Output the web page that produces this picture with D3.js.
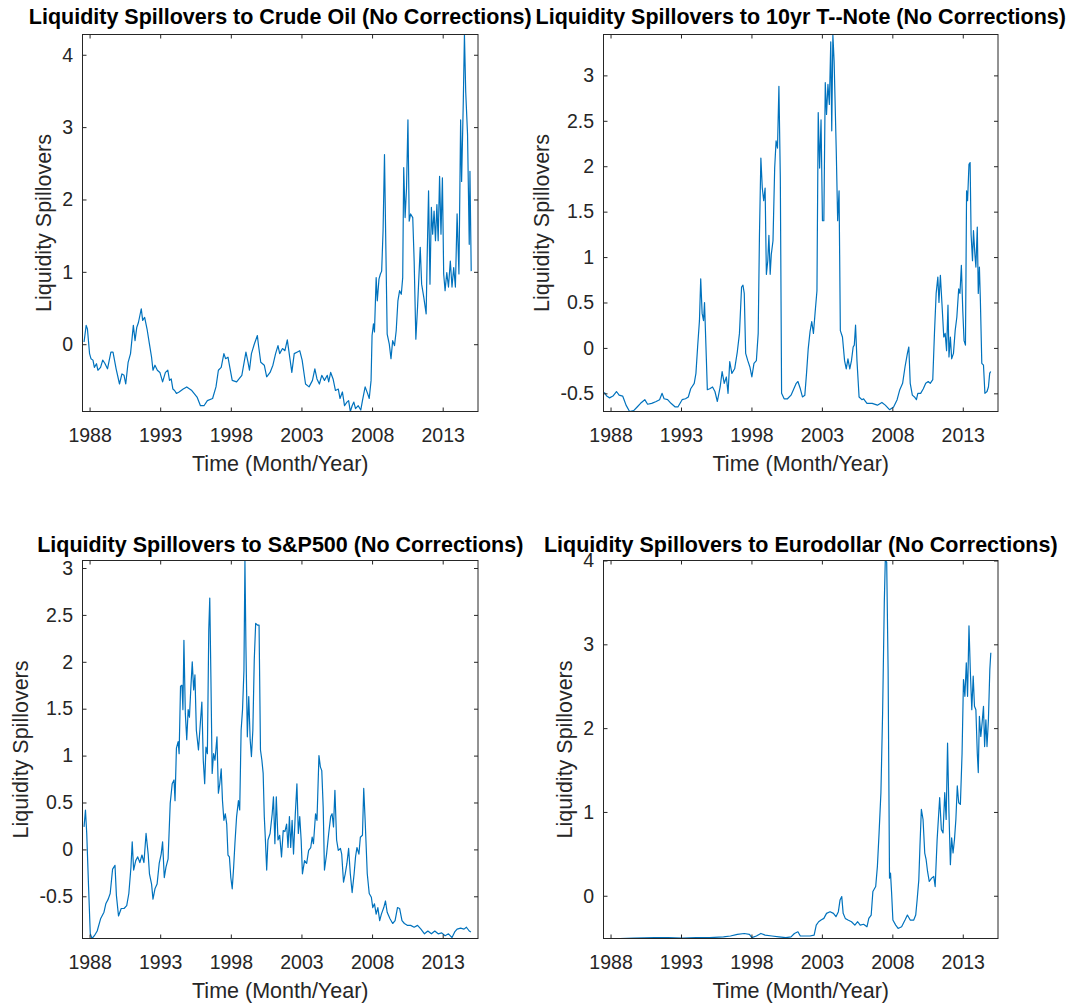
<!DOCTYPE html>
<html>
<head>
<meta charset="utf-8">
<script src="https://cdn.jsdelivr.net/npm/d3@7"></script>
<style>
  body { margin: 0; background: #fff; }
  text { font-family: "Liberation Sans", Arial, sans-serif; }
</style>
</head>
<body>
<svg id="fig" width="1071" height="1004"></svg>
<script>
// x axis: years, shared by all four panels
const yearTicks = [1988, 1993, 1998, 2003, 2008, 2013]
const yearRange = [1987.5, 2015.5]

// [year, spillover]
const crudeOil = [
  [1987.61,0.03],[1987.76,0.26],[1987.85,0.21],[1988.00,-0.13],[1988.10,-0.20],[1988.24,-0.22],[1988.34,-0.32],
  [1988.49,-0.27],[1988.59,-0.36],[1988.78,-0.32],[1988.93,-0.22],[1989.07,-0.26],[1989.27,-0.34],[1989.51,-0.11],
  [1989.66,-0.11],[1989.88,-0.34],[1990.12,-0.55],[1990.29,-0.41],[1990.44,-0.43],[1990.56,-0.55],[1990.73,-0.25],
  [1990.90,-0.13],[1991.10,0.26],[1991.22,0.05],[1991.34,0.23],[1991.46,0.30],[1991.66,0.49],[1991.76,0.33],
  [1991.90,0.37],[1992.07,0.21],[1992.24,0.00],[1992.39,-0.18],[1992.49,-0.36],[1992.63,-0.29],[1992.80,-0.36],
  [1992.98,-0.39],[1993.17,-0.52],[1993.37,-0.39],[1993.54,-0.36],[1993.66,-0.50],[1993.78,-0.48],[1993.90,-0.62],
  [1994.02,-0.64],[1994.15,-0.68],[1994.34,-0.66],[1994.63,-0.62],[1994.88,-0.59],[1995.24,-0.64],[1995.61,-0.73],
  [1995.85,-0.85],[1996.10,-0.85],[1996.34,-0.78],[1996.71,-0.75],[1996.95,-0.59],[1997.12,-0.36],[1997.32,-0.32],
  [1997.51,-0.13],[1997.63,-0.20],[1997.80,-0.18],[1997.93,-0.32],[1998.10,-0.50],[1998.41,-0.52],[1998.78,-0.43],
  [1999.07,-0.11],[1999.22,-0.25],[1999.32,-0.36],[1999.46,-0.13],[1999.66,0.00],[1999.88,0.12],[1999.95,0.00],
  [2000.12,-0.25],[2000.37,-0.29],[2000.54,-0.45],[2000.78,-0.39],[2000.98,-0.29],[2001.17,-0.13],[2001.34,-0.02],
  [2001.46,-0.13],[2001.66,-0.06],[2001.83,-0.09],[2002.00,0.06],[2002.20,-0.22],[2002.32,-0.39],[2002.49,-0.13],
  [2002.68,-0.11],[2002.88,-0.09],[2003.05,-0.22],[2003.29,-0.55],[2003.54,-0.59],[2003.78,-0.50],[2003.95,-0.34],
  [2004.10,-0.48],[2004.27,-0.55],[2004.44,-0.43],[2004.63,-0.50],[2004.83,-0.43],[2004.93,-0.52],[2005.07,-0.39],
  [2005.24,-0.48],[2005.41,-0.64],[2005.61,-0.62],[2005.73,-0.75],[2005.90,-0.66],[2006.05,-0.85],[2006.22,-0.80],
  [2006.34,-0.78],[2006.46,-0.93],[2006.59,-0.85],[2006.71,-0.80],[2006.83,-0.89],[2007.02,-0.85],[2007.20,-0.91],
  [2007.32,-0.78],[2007.51,-0.59],[2007.68,-0.68],[2007.80,-0.75],[2007.93,-0.50],[2008.00,0.12],[2008.10,0.28],
  [2008.17,0.17],[2008.29,0.92],[2008.37,0.60],[2008.49,0.90],[2008.59,0.97],[2008.68,1.01],[2008.78,1.57],
  [2008.88,2.62],[2008.98,1.29],[2009.07,0.14],[2009.22,0.00],[2009.34,-0.20],[2009.46,0.05],[2009.59,-0.02],
  [2009.71,0.19],[2009.83,0.60],[2009.95,0.74],[2010.07,0.69],[2010.17,0.92],[2010.24,2.44],[2010.34,1.75],
  [2010.44,2.16],[2010.54,3.10],[2010.63,1.70],[2010.73,1.80],[2010.88,1.75],[2010.98,1.15],[2011.10,0.07],
  [2011.22,0.51],[2011.41,1.34],[2011.51,0.83],[2011.66,0.65],[2011.83,0.42],[2011.90,1.20],[2012.00,2.12],
  [2012.10,0.83],[2012.20,1.89],[2012.29,1.52],[2012.39,1.84],[2012.49,1.43],[2012.59,1.93],[2012.68,1.43],
  [2012.78,2.32],[2012.88,1.52],[2012.98,2.30],[2013.07,0.97],[2013.17,0.74],[2013.29,0.99],[2013.41,0.79],
  [2013.54,1.15],[2013.66,0.79],[2013.78,1.06],[2013.90,0.79],[2014.02,1.80],[2014.15,0.97],[2014.27,3.10],
  [2014.34,2.25],[2014.46,3.36],[2014.54,4.28],[2014.63,3.49],[2014.76,2.90],[2014.88,1.38],[2014.93,2.39],
  [2015.02,1.01]
]

const tNote = [
  [1987.56,-0.49],[1987.73,-0.53],[1987.93,-0.55],[1988.17,-0.53],[1988.42,-0.48],[1988.61,-0.52],[1988.86,-0.53],
  [1988.96,-0.57],[1989.10,-0.63],[1989.35,-0.70],[1989.64,-0.69],[1989.89,-0.65],[1990.13,-0.61],[1990.43,-0.57],
  [1990.63,-0.62],[1990.92,-0.61],[1991.24,-0.59],[1991.48,-0.57],[1991.66,-0.50],[1991.80,-0.56],[1992.05,-0.57],
  [1992.29,-0.61],[1992.59,-0.65],[1992.78,-0.65],[1993.08,-0.57],[1993.32,-0.56],[1993.52,-0.54],[1993.69,-0.45],
  [1993.94,-0.39],[1994.06,-0.28],[1994.18,0.01],[1994.31,0.30],[1994.40,0.76],[1994.50,0.38],[1994.60,0.30],
  [1994.67,0.50],[1994.80,-0.12],[1994.87,-0.46],[1995.04,-0.45],[1995.24,-0.43],[1995.41,-0.48],[1995.58,-0.59],
  [1995.78,-0.43],[1995.92,-0.26],[1996.07,-0.39],[1996.22,-0.32],[1996.34,-0.50],[1996.46,-0.15],[1996.61,-0.28],
  [1996.81,-0.23],[1997.00,-0.04],[1997.15,0.16],[1997.30,0.67],[1997.40,0.69],[1997.49,0.60],[1997.59,-0.06],
  [1997.74,-0.14],[1997.89,-0.21],[1998.03,-0.32],[1998.18,-0.17],[1998.35,-0.14],[1998.48,0.16],[1998.57,1.25],
  [1998.67,2.09],[1998.77,1.76],[1998.87,1.62],[1998.97,1.76],[1999.06,0.81],[1999.16,0.96],[1999.24,1.24],
  [1999.33,0.81],[1999.41,1.03],[1999.53,1.18],[1999.65,1.98],[1999.75,2.28],[1999.85,2.20],[1999.95,2.88],
  [2000.05,1.87],[2000.14,-0.50],[2000.32,-0.56],[2000.56,-0.56],[2000.81,-0.52],[2000.98,-0.46],[2001.18,-0.39],
  [2001.30,-0.37],[2001.47,-0.45],[2001.62,-0.54],[2001.79,-0.52],[2001.91,-0.28],[2002.03,-0.01],[2002.16,0.18],
  [2002.28,0.29],[2002.40,0.16],[2002.52,0.39],[2002.65,0.63],[2002.74,2.59],[2002.84,1.98],[2002.94,2.51],
  [2003.04,1.40],[2003.14,1.40],[2003.24,2.92],[2003.33,2.57],[2003.43,2.90],[2003.53,2.68],[2003.63,3.37],
  [2003.70,2.39],[2003.78,3.45],[2003.87,3.15],[2004.02,2.17],[2004.12,1.40],[2004.22,1.73],[2004.31,0.19],
  [2004.46,0.12],[2004.61,-0.14],[2004.73,-0.23],[2004.85,-0.12],[2004.98,-0.23],[2005.10,-0.14],[2005.22,0.01],
  [2005.30,0.03],[2005.39,0.25],[2005.49,-0.14],[2005.64,-0.54],[2005.84,-0.57],[2005.96,-0.56],[2006.20,-0.61],
  [2006.57,-0.61],[2006.94,-0.63],[2007.26,-0.60],[2007.50,-0.63],[2007.80,-0.68],[2008.09,-0.65],[2008.34,-0.57],
  [2008.53,-0.46],[2008.73,-0.39],[2008.90,-0.21],[2009.07,-0.06],[2009.17,0.01],[2009.27,-0.39],[2009.42,-0.52],
  [2009.57,-0.54],[2009.71,-0.57],[2009.81,-0.50],[2010.01,-0.50],[2010.20,-0.45],[2010.37,-0.39],[2010.55,-0.37],
  [2010.69,-0.39],[2010.87,-0.35],[2010.99,0.16],[2011.11,0.60],[2011.23,0.78],[2011.31,0.50],[2011.41,0.80],
  [2011.55,0.41],[2011.65,0.12],[2011.75,0.16],[2011.85,-0.03],[2011.95,0.47],[2012.02,-0.10],[2012.12,0.12],
  [2012.21,-0.12],[2012.34,-0.06],[2012.46,0.19],[2012.58,0.34],[2012.71,0.65],[2012.80,0.60],[2012.90,0.91],
  [2013.00,0.41],[2013.09,0.08],[2013.19,0.03],[2013.27,1.73],[2013.34,1.62],[2013.44,2.02],[2013.52,2.04],
  [2013.59,1.25],[2013.69,0.96],[2013.76,1.29],[2013.86,1.03],[2013.93,0.89],[2014.03,1.33],[2014.10,0.60],
  [2014.18,0.89],[2014.25,0.52],[2014.35,-0.17],[2014.47,-0.19],[2014.57,-0.50],[2014.72,-0.48],[2014.82,-0.43],
  [2014.91,-0.28],[2014.98,-0.26]
]

const sp500 = [
  [1987.61,0.24],[1987.71,0.42],[1987.80,0.17],[1987.93,-0.40],[1988.05,-0.90],[1988.17,-0.95],[1988.34,-0.92],
  [1988.54,-0.87],[1988.78,-0.74],[1989.02,-0.67],[1989.15,-0.58],[1989.32,-0.53],[1989.46,-0.47],[1989.63,-0.21],
  [1989.80,-0.17],[1989.90,-0.49],[1990.05,-0.71],[1990.24,-0.63],[1990.44,-0.63],[1990.63,-0.60],[1990.78,-0.47],
  [1990.93,-0.19],[1991.02,0.08],[1991.12,-0.22],[1991.27,-0.12],[1991.41,-0.08],[1991.56,-0.14],[1991.71,-0.06],
  [1991.85,-0.14],[1992.00,0.17],[1992.15,-0.05],[1992.24,-0.26],[1992.39,-0.37],[1992.49,-0.53],[1992.63,-0.42],
  [1992.78,-0.37],[1992.93,-0.15],[1993.07,-0.05],[1993.17,0.08],[1993.29,-0.30],[1993.41,-0.19],[1993.56,-0.10],
  [1993.71,0.49],[1993.85,0.70],[1993.98,0.74],[1994.05,0.52],[1994.15,1.08],[1994.27,1.15],[1994.34,1.02],
  [1994.44,1.74],[1994.54,1.75],[1994.61,1.49],[1994.68,2.23],[1994.78,1.45],[1994.88,1.17],[1994.98,1.49],
  [1995.07,1.41],[1995.17,1.72],[1995.27,2.00],[1995.37,1.70],[1995.46,1.86],[1995.56,1.27],[1995.71,1.06],
  [1995.85,1.36],[1995.95,1.57],[1996.05,0.95],[1996.15,0.70],[1996.24,1.09],[1996.34,1.02],[1996.44,2.34],
  [1996.51,2.68],[1996.59,1.84],[1996.68,0.81],[1996.78,1.02],[1996.88,0.95],[1997.02,1.20],[1997.12,0.60],
  [1997.22,0.70],[1997.32,0.86],[1997.41,0.52],[1997.51,0.31],[1997.61,0.38],[1997.71,0.27],[1997.80,-0.06],
  [1997.90,-0.08],[1998.00,-0.30],[1998.10,-0.42],[1998.20,-0.19],[1998.29,0.06],[1998.41,0.35],[1998.54,0.52],
  [1998.63,0.42],[1998.73,1.27],[1998.83,1.49],[1998.93,1.91],[1999.00,3.08],[1999.07,2.16],[1999.17,1.20],
  [1999.27,1.63],[1999.37,1.17],[1999.46,0.99],[1999.56,1.27],[1999.66,2.02],[1999.76,2.41],[1999.90,2.39],
  [2000.00,2.39],[2000.10,1.06],[2000.20,0.95],[2000.29,0.81],[2000.37,0.35],[2000.44,0.13],[2000.54,-0.22],
  [2000.63,0.10],[2000.78,0.17],[2000.93,0.38],[2001.02,0.56],[2001.12,0.06],[2001.22,0.56],[2001.34,0.10],
  [2001.46,0.15],[2001.59,-0.08],[2001.71,0.20],[2001.83,0.19],[2001.95,0.27],[2002.05,0.02],[2002.15,0.35],
  [2002.24,0.02],[2002.34,0.31],[2002.44,-0.05],[2002.56,0.36],[2002.68,0.70],[2002.78,0.17],[2002.88,0.35],
  [2002.98,0.10],[2003.07,-0.26],[2003.22,-0.12],[2003.37,-0.15],[2003.51,-0.01],[2003.66,0.02],[2003.76,0.13],
  [2003.85,0.06],[2004.00,0.38],[2004.10,0.31],[2004.24,1.00],[2004.34,0.88],[2004.44,0.84],[2004.54,0.45],
  [2004.63,-0.22],[2004.78,-0.05],[2004.93,0.17],[2005.07,0.35],[2005.17,0.38],[2005.27,0.24],[2005.37,0.63],
  [2005.49,0.10],[2005.61,-0.01],[2005.76,0.01],[2005.85,-0.05],[2005.98,-0.35],[2006.10,-0.26],[2006.22,-0.15],
  [2006.34,0.01],[2006.46,-0.26],[2006.59,-0.46],[2006.73,-0.26],[2006.83,-0.08],[2006.93,0.02],[2007.07,-0.05],
  [2007.17,0.13],[2007.32,0.15],[2007.41,0.65],[2007.51,0.31],[2007.66,-0.26],[2007.80,-0.47],[2007.95,-0.51],
  [2008.05,-0.62],[2008.17,-0.58],[2008.29,-0.69],[2008.41,-0.62],[2008.54,-0.76],[2008.66,-0.69],[2008.83,-0.62],
  [2008.95,-0.55],[2009.07,-0.67],[2009.27,-0.74],[2009.46,-0.79],[2009.63,-0.76],[2009.80,-0.62],[2009.95,-0.63],
  [2010.12,-0.76],[2010.29,-0.79],[2010.49,-0.81],[2010.73,-0.81],[2010.98,-0.83],[2011.22,-0.81],[2011.46,-0.85],
  [2011.71,-0.90],[2011.95,-0.87],[2012.20,-0.90],[2012.44,-0.87],[2012.68,-0.90],[2012.93,-0.89],[2013.17,-0.92],
  [2013.41,-0.90],[2013.66,-0.94],[2013.85,-0.88],[2014.02,-0.85],[2014.27,-0.84],[2014.51,-0.85],[2014.68,-0.83],
  [2014.88,-0.87],[2015.00,-0.88]
]

const eurodollar = [
  [1987.56,-0.51],[1988.66,-0.51],[1989.64,-0.505],[1991.12,-0.50],[1992.10,-0.50],[1993.08,-0.505],[1994.06,-0.50],
  [1995.04,-0.50],[1996.02,-0.49],[1996.51,-0.48],[1997.00,-0.46],[1997.49,-0.45],[1997.86,-0.46],[1998.03,-0.50],
  [1998.35,-0.48],[1998.67,-0.45],[1998.97,-0.47],[1999.46,-0.48],[1999.95,-0.49],[2000.44,-0.50],[2000.81,-0.49],
  [2001.05,-0.45],[2001.30,-0.43],[2001.47,-0.48],[2001.79,-0.48],[2002.16,-0.48],[2002.45,-0.47],[2002.60,-0.35],
  [2002.77,-0.31],[2002.94,-0.29],[2003.14,-0.27],[2003.33,-0.21],[2003.58,-0.19],[2003.82,-0.21],[2004.00,-0.25],
  [2004.17,-0.19],[2004.29,-0.05],[2004.41,-0.01],[2004.51,-0.21],[2004.66,-0.27],[2004.85,-0.29],[2005.10,-0.31],
  [2005.34,-0.35],[2005.54,-0.31],[2005.72,-0.35],[2005.96,-0.34],[2006.20,-0.37],[2006.33,-0.27],[2006.50,-0.23],
  [2006.62,0.05],[2006.82,0.11],[2006.94,0.35],[2007.06,0.75],[2007.19,1.23],[2007.31,2.18],[2007.43,3.50],
  [2007.50,4.00],[2007.60,3.98],[2007.70,2.70],[2007.80,0.21],[2007.87,0.27],[2007.95,0.03],[2008.04,-0.29],
  [2008.24,-0.35],[2008.41,-0.39],[2008.66,-0.37],[2008.90,-0.29],[2009.07,-0.23],[2009.27,-0.29],[2009.52,-0.29],
  [2009.66,-0.23],[2009.76,-0.05],[2009.88,0.19],[2009.96,0.59],[2010.06,1.03],[2010.18,0.91],[2010.30,0.51],
  [2010.40,0.43],[2010.50,0.29],[2010.62,0.17],[2010.79,0.21],[2010.94,0.23],[2011.04,0.11],[2011.18,0.67],
  [2011.36,1.17],[2011.48,0.79],[2011.60,0.75],[2011.72,1.23],[2011.82,0.91],[2011.92,1.82],[2012.02,0.99],
  [2012.12,0.37],[2012.21,0.69],[2012.31,0.51],[2012.41,0.67],[2012.51,0.91],[2012.61,1.31],[2012.71,1.11],
  [2012.83,1.09],[2012.95,1.70],[2013.05,2.58],[2013.15,2.38],[2013.25,2.78],[2013.34,2.38],[2013.44,3.22],
  [2013.54,2.66],[2013.64,2.22],[2013.74,2.62],[2013.83,2.26],[2013.93,2.22],[2014.03,1.70],[2014.10,1.47],
  [2014.18,2.14],[2014.28,1.90],[2014.37,2.06],[2014.47,2.26],[2014.55,1.78],[2014.64,2.10],[2014.72,1.78],
  [2014.82,2.10],[2014.92,2.70],[2014.99,2.90]
]

// y tick values per panel
const oilTicks = [0, 1, 2, 3, 4]
const noteTicks = [-0.5, 0, 0.5, 1, 1.5, 2, 2.5, 3]
const spTicks = [-0.5, 0, 0.5, 1, 1.5, 2, 2.5, 3]
const euroTicks = [0, 1, 2, 3, 4]

const titles = [
  "Liquidity Spillovers to Crude Oil (No Corrections)",
  "Liquidity Spillovers to 10yr T--Note (No Corrections)",
  "Liquidity Spillovers to S&P500 (No Corrections)",
  "Liquidity Spillovers to Eurodollar (No Corrections)"
]

const AXIS_COLOR = "#262626"
const LINE_COLOR = "#0072BD"
const TICK = 4
const TICK_FONT = "19.5px"
const LABEL_FONT = "21.5px"

const svg = d3.select("#fig")

const panels = [
  { title: titles[0], data: crudeOil, yTicks: oilTicks, left: 82.5, top: 34.5, w: 395.5, h: 377, titleGap: 11 },
  { title: titles[1], data: tNote, yTicks: noteTicks, left: 603.5, top: 34.5, w: 394.5, h: 377, titleGap: 11 },
  { title: titles[2], data: sp500, yTicks: spTicks, left: 82.5, top: 560.5, w: 395.5, h: 378, titleGap: 8.5 },
  { title: titles[3], data: eurodollar, yTicks: euroTicks, left: 603.5, top: 560.5, w: 394.5, h: 378, titleGap: 8.5 }
]

panels.forEach((p, i) => drawPanel(p, i))

function drawPanel(p, i) {
  const g = svg.append("g")
    .attr("transform", `translate(${p.left}, ${p.top})`)

  const x = d3.scaleLinear().domain(yearRange).range([0, p.w])
  // axis tight on the values, like the original
  const y = d3.scaleLinear().domain(d3.extent(p.data, d => d[1])).range([p.h, 0])

  g.append("clipPath").attr("id", "clip" + i)
    .append("rect").attr("width", p.w).attr("height", p.h)

  g.append("path")
    .datum(p.data)
    .attr("clip-path", `url(#clip${i})`)
    .attr("fill", "none")
    .attr("stroke", LINE_COLOR)
    .attr("stroke-width", 1.2)
    .attr("stroke-linejoin", "round")
    .attr("d", d3.line().x(d => x(d[0])).y(d => y(d[1])))

  const fmt = d => String(d)

  // ticks point inward on all four sides
  const xb = g.append("g").attr("transform", `translate(0, ${p.h})`)
    .call(d3.axisBottom(x).tickValues(yearTicks).tickFormat(fmt).tickSizeInner(-TICK).tickSizeOuter(0).tickPadding(16.5))
  const xt = g.append("g")
    .call(d3.axisTop(x).tickValues(yearTicks).tickFormat("").tickSizeInner(-TICK).tickSizeOuter(0))
  const yl = g.append("g")
    .call(d3.axisLeft(y).tickValues(p.yTicks).tickFormat(fmt).tickSizeInner(-TICK).tickSizeOuter(0).tickPadding(9.5))
  const yr = g.append("g").attr("transform", `translate(${p.w}, 0)`)
    .call(d3.axisRight(y).tickValues(p.yTicks).tickFormat("").tickSizeInner(-TICK).tickSizeOuter(0))

  ;[xb, xt, yl, yr].forEach(a => {
    a.select(".domain").remove()
    a.selectAll("line").attr("stroke", AXIS_COLOR)
    a.selectAll("text")
      .attr("font-family", null)
      .style("font-size", TICK_FONT)
      .attr("fill", AXIS_COLOR)
  })

  g.append("rect")
    .attr("width", p.w)
    .attr("height", p.h)
    .attr("fill", "none")
    .attr("stroke", AXIS_COLOR)
    .attr("stroke-width", 1)

  // y label sits clear of the widest tick label
  let maxW = 0
  yl.selectAll("text").each(function () { maxW = Math.max(maxW, this.getComputedTextLength()) })

  g.append("text")
    .attr("transform", "rotate(-90)")
    .attr("x", -p.h / 2)
    .attr("y", -(maxW + 9.5 + 11))
    .attr("text-anchor", "middle")
    .style("font-size", LABEL_FONT)
    .attr("fill", AXIS_COLOR)
    .text("Liquidity Spillovers")

  g.append("text")
    .attr("x", p.w / 2)
    .attr("y", p.h + 59)
    .attr("text-anchor", "middle")
    .style("font-size", LABEL_FONT)
    .attr("fill", AXIS_COLOR)
    .text("Time (Month/Year)")

  g.append("text")
    .attr("x", p.w / 2)
    .attr("y", -p.titleGap)
    .attr("text-anchor", "middle")
    .style("font-size", LABEL_FONT)
    .style("font-weight", "bold")
    .attr("fill", "#000")
    .text(p.title)
}
</script>
</body>
</html>
